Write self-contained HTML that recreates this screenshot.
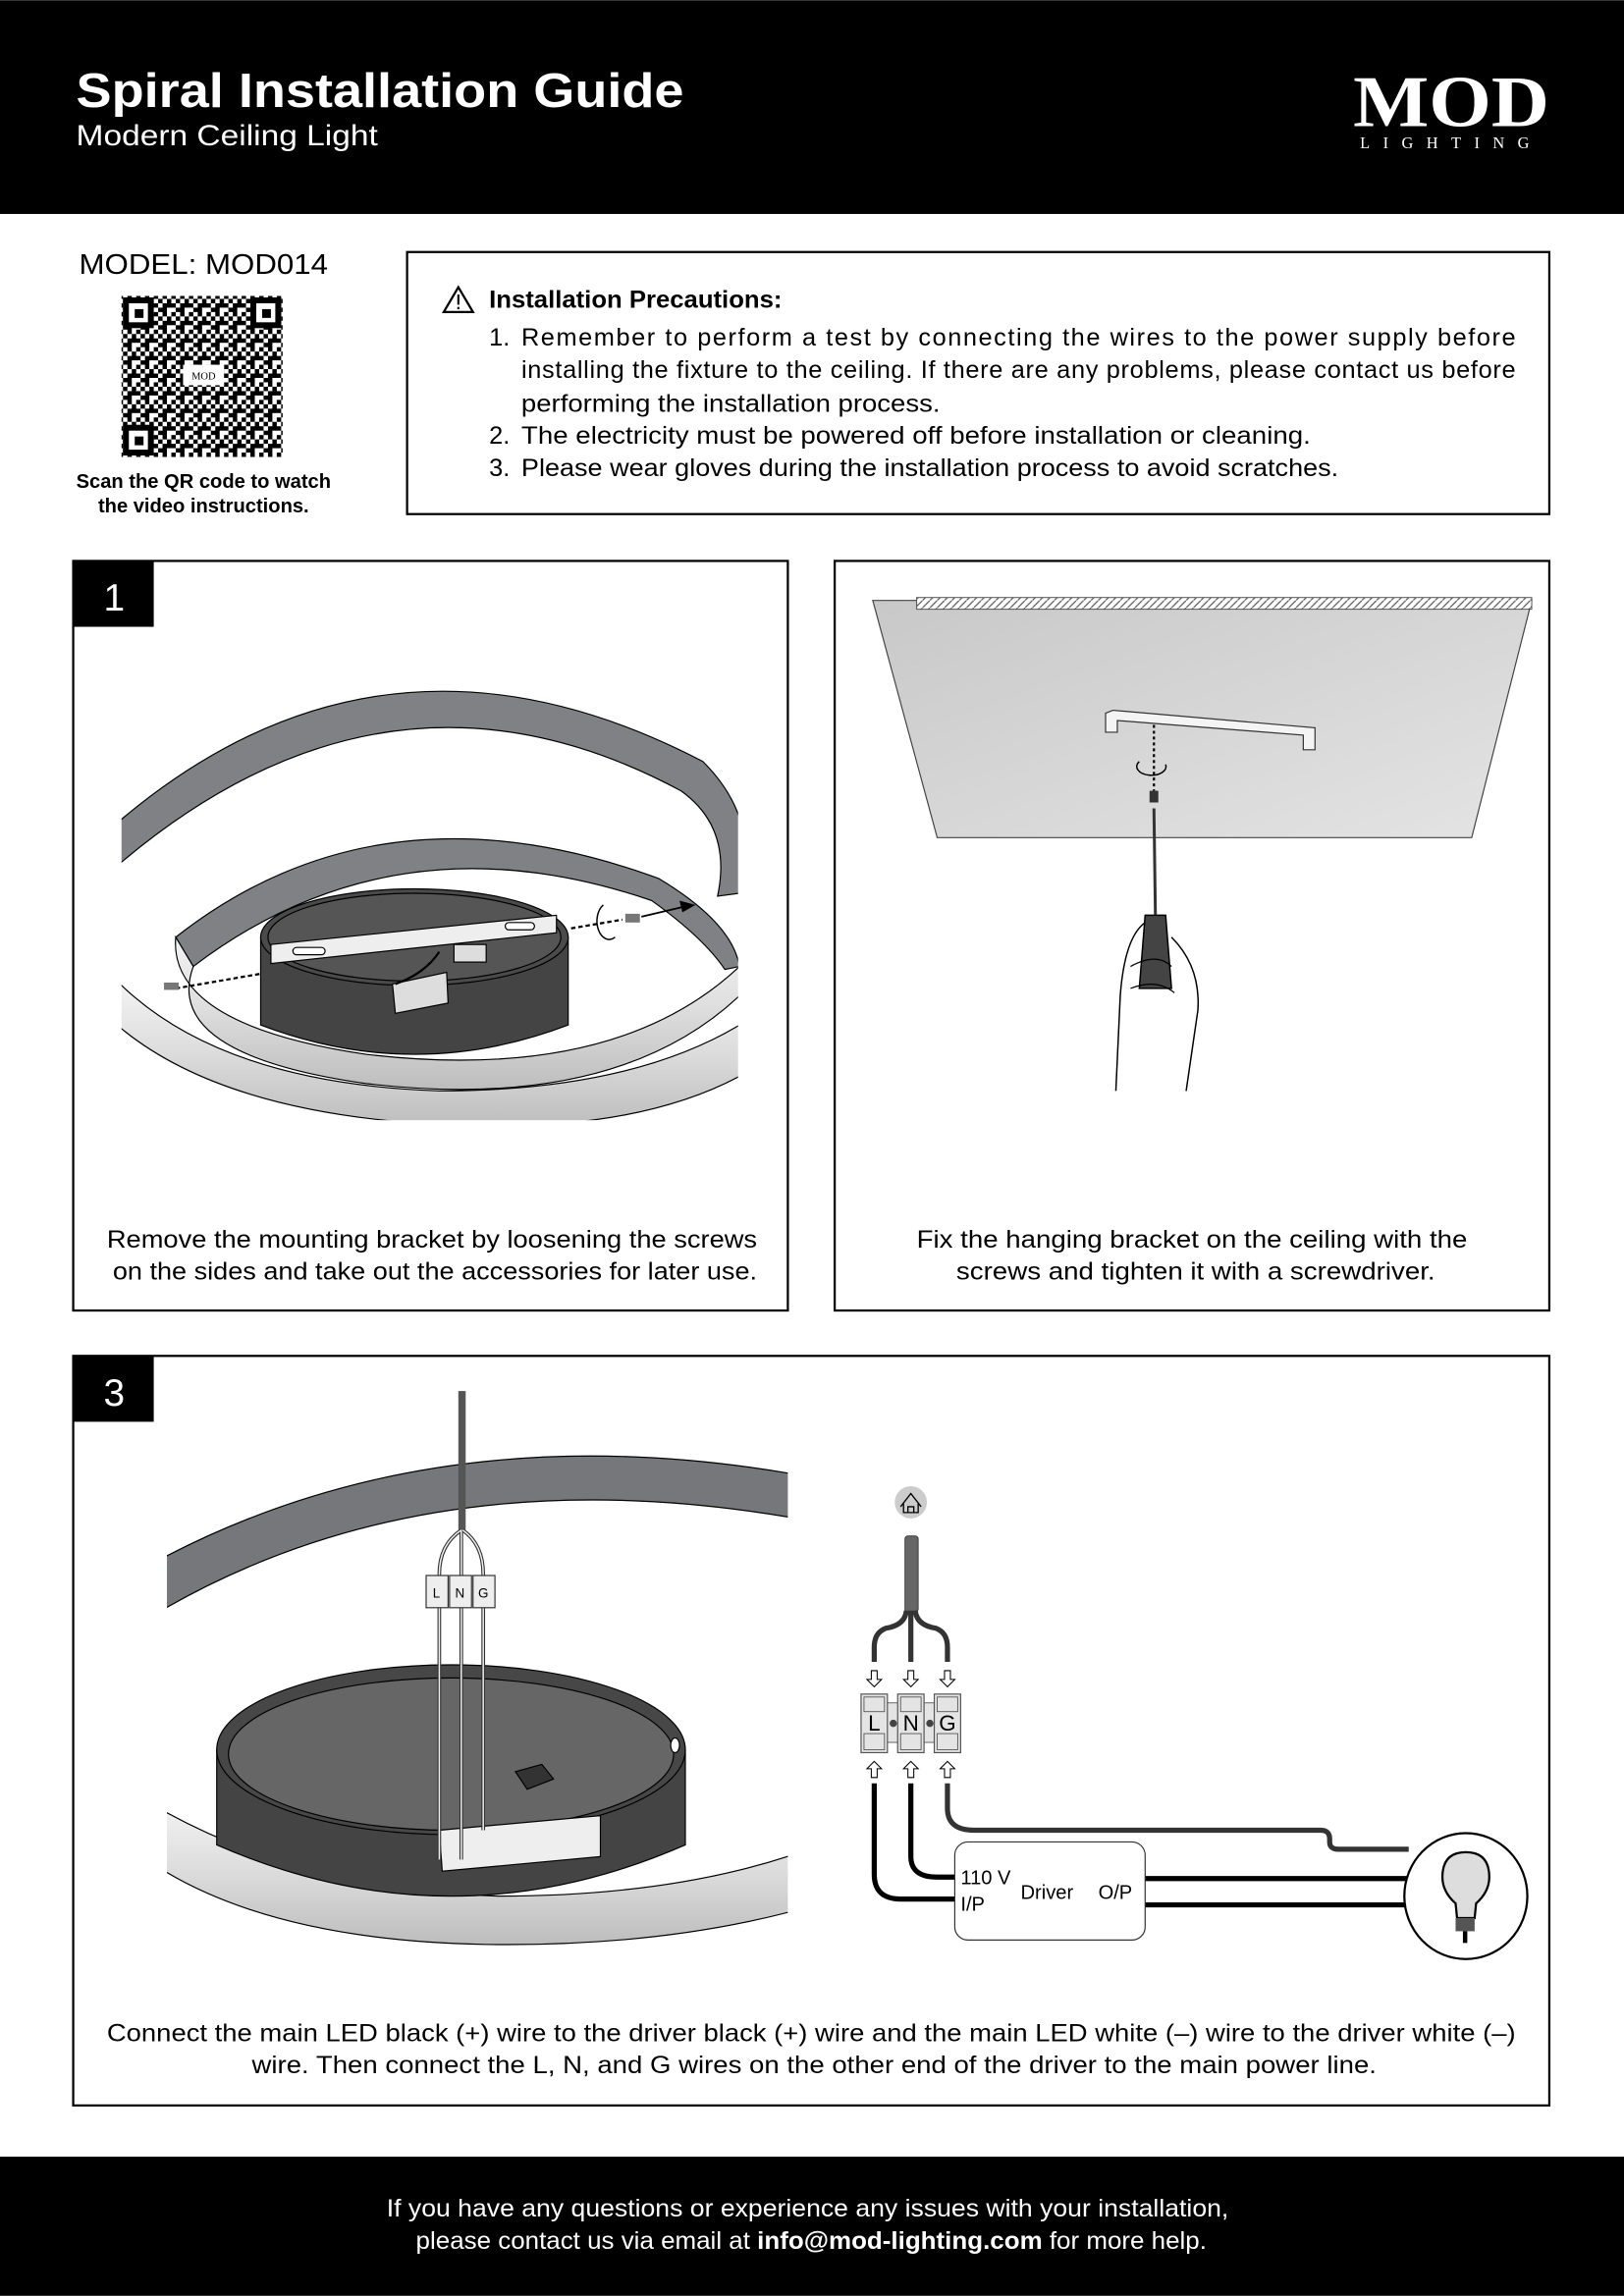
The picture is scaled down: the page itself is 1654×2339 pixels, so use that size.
<!DOCTYPE html>
<html><head><meta charset="utf-8"><style>
html,body{margin:0;padding:0;background:#fff}
svg{display:block}
text{font-family:"Liberation Sans",sans-serif}
</style></head><body>
<svg width="1654" height="2339" viewBox="0 0 1109 1568" xmlns="http://www.w3.org/2000/svg">
<defs>
<pattern id="qr" width="12" height="12" patternUnits="userSpaceOnUse">
<rect width="12" height="12" fill="#fff"/>
<rect x="0" y="0" width="3" height="3" fill="#000"/><rect x="6" y="0" width="3" height="6" fill="#000"/>
<rect x="3" y="3" width="3" height="3" fill="#000"/><rect x="9" y="3" width="3" height="3" fill="#000"/>
<rect x="0" y="6" width="6" height="3" fill="#000"/><rect x="9" y="9" width="3" height="3" fill="#000"/>
<rect x="3" y="9" width="3" height="3" fill="#000"/>
</pattern>
<pattern id="hatch" width="5" height="5" patternUnits="userSpaceOnUse"><rect width="5" height="5" fill="#fff"/><path d="M0 5L5 0" stroke="#555" stroke-width="0.8"/></pattern>
<linearGradient id="ceil" x1="0" y1="0" x2="1" y2="1"><stop offset="0" stop-color="#c8c8c8"/><stop offset="1" stop-color="#e4e4e4"/></linearGradient>
<linearGradient id="wring" x1="0" y1="0" x2="0" y2="1"><stop offset="0" stop-color="#f4f4f4"/><stop offset="0.5" stop-color="#dcdcdc"/><stop offset="1" stop-color="#bdbdbd"/></linearGradient>
<clipPath id="c1"><rect x="83" y="430" width="421" height="335"/></clipPath>
<clipPath id="c3"><rect x="114" y="950" width="424" height="388"/></clipPath>
</defs>

<!-- header -->
<rect x="0" y="0" width="1109" height="146" fill="#000"/>
<text x="52" y="73" fill="#fff" font-size="33" font-weight="bold" textLength="415" lengthAdjust="spacingAndGlyphs">Spiral Installation Guide</text>
<text x="52" y="99" fill="#fff" font-size="20" textLength="206" lengthAdjust="spacingAndGlyphs">Modern Ceiling Light</text>
<text x="991" y="86" fill="#fff" font-size="50" font-weight="bold" style="font-family:'Liberation Serif',serif" text-anchor="middle" textLength="134" lengthAdjust="spacingAndGlyphs">MOD</text>
<text x="991" y="101" fill="#fff" font-size="11" style="font-family:'Liberation Serif',serif" text-anchor="middle" letter-spacing="9">LIGHTING</text>

<!-- model + QR -->
<text x="54" y="187" font-size="19" textLength="170" lengthAdjust="spacingAndGlyphs">MODEL: MOD014</text>
<rect x="83" y="202" width="110" height="110" fill="url(#qr)"/>
<g fill="#fff" stroke="#000" stroke-width="4">
<rect x="86" y="205" width="17" height="17"/><rect x="173" y="205" width="17" height="17"/><rect x="86" y="292" width="17" height="17"/>
</g>
<rect x="92" y="211" width="6" height="6"/><rect x="179" y="211" width="6" height="6"/><rect x="92" y="298" width="6" height="6"/>
<rect x="125" y="249" width="28" height="14" fill="#fff"/>
<text x="139" y="259" font-size="7" text-anchor="middle" style="font-family:'Liberation Serif',serif">MOD</text>
<text x="139" y="333" font-size="13.5" font-weight="bold" text-anchor="middle">Scan the QR code to watch</text>
<text x="139" y="350" font-size="13.5" font-weight="bold" text-anchor="middle">the video instructions.</text>

<!-- precautions -->
<rect x="278" y="172" width="780" height="179" fill="none" stroke="#000" stroke-width="1.5"/>
<path d="M313 196 L303 213 L323 213 Z" fill="none" stroke="#000" stroke-width="1.5"/>
<rect x="312.3" y="201" width="1.4" height="7"/><rect x="312.3" y="209.5" width="1.4" height="1.6"/>
<text x="334" y="210" font-size="17" font-weight="bold" textLength="200" lengthAdjust="spacingAndGlyphs">Installation Precautions:</text>
<g font-size="17">
<text x="334" y="236">1.</text><text x="356" y="236" textLength="679" lengthAdjust="spacing">Remember to perform a test by connecting the wires to the power supply before</text>
<text x="356" y="258" textLength="679" lengthAdjust="spacing">installing the fixture to the ceiling. If there are any problems, please contact us before</text>
<text x="356" y="281" textLength="286" lengthAdjust="spacingAndGlyphs">performing the installation process.</text>
<text x="334" y="303">2.</text><text x="356" y="303" textLength="539" lengthAdjust="spacingAndGlyphs">The electricity must be powered off before installation or cleaning.</text>
<text x="334" y="325">3.</text><text x="356" y="325" textLength="558" lengthAdjust="spacingAndGlyphs">Please wear gloves during the installation process to avoid scratches.</text>
</g>

<!-- panel 1 -->
<rect x="50" y="383" width="488" height="512" fill="none" stroke="#000" stroke-width="1.5"/>
<rect x="50" y="383" width="55" height="45" fill="#000"/>
<text x="78" y="417" fill="#fff" font-size="26" text-anchor="middle">1</text>
<g clip-path="url(#c1)" stroke="#000" stroke-width="0.8">
<path d="M60 580 Q250 400 480 520 Q520 560 505 610 L490 612 Q500 565 465 540 Q260 430 70 600 Z" fill="#808185"/>
<path d="M120 640 Q260 530 450 600 Q500 630 505 660 L495 662 Q480 640 445 615 Q270 555 132 660 Z" fill="#808185"/>
<path d="M120 640 Q115 700 250 720 Q420 740 505 660 L505 680 Q420 760 250 740 Q110 720 132 660 Z" fill="url(#wring)"/>
<path d="M80 670 Q150 740 300 745 Q430 745 505 700 L505 735 Q430 775 300 768 Q150 760 80 700 Z" fill="url(#wring)"/>
<path d="M178 640 L178 700 Q283 740 388 700 L388 640 Z" fill="#444"/>
<ellipse cx="283" cy="640" rx="105" ry="33" fill="#4a4a4a"/>
<ellipse cx="283" cy="640" rx="100" ry="30" fill="#555"/>
<path d="M185 645 L380 625 L380 637 L185 658 Z" fill="#eee"/>
<rect x="200" y="647" width="22" height="5" rx="2.5" fill="#fff"/><rect x="345" y="630" width="20" height="5" rx="2.5" fill="#fff"/>
<path d="M268 672 L305 664 L306 685 L270 692 Z" fill="#ddd"/>
<path d="M300 650 Q290 665 270 672" fill="none" stroke="#000" stroke-width="1.5"/>
<rect x="310" y="645" width="22" height="12" fill="#ddd"/>
</g>
<line x1="120" y1="675" x2="178" y2="665" stroke="#000" stroke-width="1.5" stroke-dasharray="3,2"/>
<line x1="390" y1="634" x2="425" y2="628" stroke="#000" stroke-width="1.5" stroke-dasharray="3,2"/>
<line x1="438" y1="626" x2="468" y2="619" stroke="#000" stroke-width="1.2"/>
<path d="M475 618 L464 615 L466 623 Z"/>
<rect x="112" y="671" width="10" height="5" fill="#777"/><rect x="427" y="624" width="10" height="6" fill="#777"/>
<path d="M412 618 a8 12 0 1 0 8 22" fill="none" stroke="#000" stroke-width="1"/>
<g font-size="17">
<text x="73" y="852" textLength="444" lengthAdjust="spacingAndGlyphs">Remove the mounting bracket by loosening the screws</text>
<text x="77" y="874" textLength="440" lengthAdjust="spacingAndGlyphs">on the sides and take out the accessories for later use.</text>
</g>

<!-- panel 2 -->
<rect x="570" y="383" width="488" height="512" fill="none" stroke="#000" stroke-width="1.5"/>
<path d="M596 410 L1046 410 L1005 572 L640 572 Z" fill="url(#ceil)" stroke="#444" stroke-width="0.8"/>
<rect x="626" y="408" width="420" height="8" fill="url(#hatch)" stroke="#444" stroke-width="0.6"/>
<path d="M760 485 L898 497 L898 512 L890 512 L890 502 L763 492 L763 500 L755 500 L755 487 Z" fill="#f4f4f4" stroke="#333" stroke-width="0.8"/>
<line x1="788" y1="495" x2="788" y2="540" stroke="#000" stroke-width="1.5" stroke-dasharray="2,2"/>
<path d="M778 520 a10 6 0 1 0 18 2" fill="none" stroke="#000" stroke-width="1"/>
<rect x="785" y="540" width="6" height="8" fill="#333"/>
<line x1="788" y1="552" x2="789" y2="625" stroke="#333" stroke-width="2"/>
<path d="M782 625 L796 625 L800 675 L778 675 Z" fill="#444" stroke="#000"/>
<path d="M762 745 L765 680 Q768 640 782 630 M800 640 Q820 660 818 690 L810 745" fill="none" stroke="#000" stroke-width="1"/>
<path d="M772 660 Q790 650 800 660 M772 675 Q790 668 802 678" fill="none" stroke="#000" stroke-width="0.8"/>
<g font-size="17">
<text x="626" y="852" textLength="376" lengthAdjust="spacingAndGlyphs">Fix the hanging bracket on the ceiling with the</text>
<text x="653" y="874" textLength="327" lengthAdjust="spacingAndGlyphs">screws and tighten it with a screwdriver.</text>
</g>

<!-- panel 3 -->
<rect x="50" y="926" width="1008" height="512" fill="none" stroke="#000" stroke-width="1.5"/>
<rect x="50" y="926" width="55" height="45" fill="#000"/>
<text x="78" y="960" fill="#fff" font-size="26" text-anchor="middle">3</text>
<g clip-path="url(#c3)" stroke="#000" stroke-width="0.8">
<path d="M100 1070 Q300 960 560 1010 L560 1040 Q300 990 110 1100 Z" fill="#76777b"/>
<path d="M100 1230 Q200 1290 340 1295 Q470 1295 560 1260 L560 1300 Q460 1330 330 1328 Q180 1325 100 1270 Z" fill="url(#wring)"/>
<path d="M148 1195 L148 1260 Q308 1330 468 1260 L468 1195 Z" fill="#444"/>
<ellipse cx="308" cy="1195" rx="160" ry="58" fill="#474747"/>
<ellipse cx="308" cy="1198" rx="152" ry="52" fill="#666"/>
<path d="M300 1250 L410 1240 L410 1268 L302 1278 Z" fill="#eee"/>
<path d="M352 1210 L370 1205 L378 1215 L360 1222 Z" fill="#333"/>
<ellipse cx="461" cy="1192" rx="3" ry="5" fill="#fff"/>
</g>
<rect x="313" y="950" width="5" height="95" fill="#555"/>
<path d="M315 1045 Q300 1055 300 1075 L300 1270 M315 1045 L315 1270 M316 1045 Q330 1055 330 1075 L330 1250" fill="none" stroke="#333" stroke-width="2.5"/>
<path d="M315 1045 Q300 1055 300 1075 L300 1270 M315 1045 L315 1270 M316 1045 Q330 1055 330 1075 L330 1250" fill="none" stroke="#eee" stroke-width="1"/>
<g fill="#eee" stroke="#333" stroke-width="0.8">
<rect x="291" y="1076" width="15" height="22"/><rect x="307" y="1076" width="15" height="22"/><rect x="323" y="1076" width="15" height="22"/>
</g>
<g font-size="9" text-anchor="middle"><text x="298" y="1091">L</text><text x="314" y="1091">N</text><text x="330" y="1091">G</text></g>

<!-- wiring diagram -->
<circle cx="622" cy="1026" r="11" fill="#ccc"/>
<path d="M615 1029 L622 1020 L629 1029 M617 1027 L617 1033 L627 1033 L627 1027 M620 1033 L620 1029 L624 1029 L624 1033" fill="none" stroke="#000" stroke-width="0.9"/>
<rect x="618" y="1049" width="9" height="52" rx="2" fill="#666" stroke="#333" stroke-width="0.6"/>
<path d="M619 1100 Q618 1110 605 1112 Q597 1115 597 1125 L597 1135 M622 1100 L622 1135 M625 1100 Q626 1110 639 1112 Q647 1115 647 1125 L647 1135" fill="none" stroke="#333" stroke-width="3.5"/>
<g fill="#fff" stroke="#000" stroke-width="0.7">
<path d="M595 1141 h4 v6 h3 l-5 5 l-5 -5 h3 z"/><path d="M620 1141 h4 v6 h3 l-5 5 l-5 -5 h3 z"/><path d="M645 1141 h4 v6 h3 l-5 5 l-5 -5 h3 z"/>
<path d="M595 1214 h4 v-6 h3 l-5 -5 l-5 5 h3 z"/><path d="M620 1214 h4 v-6 h3 l-5 -5 l-5 5 h3 z"/><path d="M645 1214 h4 v-6 h3 l-5 -5 l-5 5 h3 z"/>
</g>
<rect x="605" y="1163" width="50" height="27" fill="#e4e4e4" stroke="#555" stroke-width="0.6"/>
<g fill="#e4e4e4" stroke="#555" stroke-width="0.8">
<rect x="588" y="1157" width="18" height="40"/><rect x="613" y="1157" width="18" height="40"/><rect x="638" y="1157" width="18" height="40"/>
</g>
<g fill="#e4e4e4" stroke="#555" stroke-width="0.6">
<rect x="590" y="1159" width="14" height="10"/><rect x="615" y="1159" width="14" height="10"/><rect x="640" y="1159" width="14" height="10"/>
<rect x="590" y="1184" width="14" height="11"/><rect x="615" y="1184" width="14" height="11"/><rect x="640" y="1184" width="14" height="11"/>
</g>
<circle cx="610" cy="1177" r="2.5" fill="#444"/><circle cx="635" cy="1177" r="2.5" fill="#444"/>
<g font-size="15" text-anchor="middle"><text x="597" y="1182">L</text><text x="622" y="1182">N</text><text x="647" y="1182">G</text></g>
<path d="M597 1218 L597 1280 Q597 1297 615 1297 L652 1297 M622 1218 L622 1268 Q622 1282 640 1282 L652 1282" fill="none" stroke="#000" stroke-width="3.5"/>
<path d="M647 1218 L647 1235 Q647 1250 665 1250 L902 1250 Q908 1250 908 1256 L908 1258 Q908 1263 914 1263 L962 1263" fill="none" stroke="#333" stroke-width="3.5"/>
<path d="M782 1283 L962 1283 M782 1301 L964 1301" stroke="#000" stroke-width="3.5"/>
<rect x="652" y="1258" width="130" height="67" rx="9" fill="#fff" stroke="#333" stroke-width="0.8"/>
<g font-size="13.5"><text x="656" y="1287">110 V</text><text x="656" y="1305">I/P</text><text x="697" y="1297">Driver</text><text x="750" y="1297">O/P</text></g>
<ellipse cx="1001" cy="1295" rx="42" ry="43" fill="#fff" stroke="#000" stroke-width="1.5"/>
<path d="M1001 1265 Q1017 1265 1017 1282 Q1017 1292 1008 1300 L1007 1310 L995 1310 L994 1300 Q985 1292 985 1282 Q985 1265 1001 1265 Z" fill="#ddd" stroke="#000" stroke-width="1.5"/>
<rect x="994" y="1310" width="13" height="9" fill="#555"/><rect x="999" y="1319" width="3" height="8" fill="#000"/>
<g font-size="17">
<text x="73" y="1394" textLength="962" lengthAdjust="spacingAndGlyphs">Connect the main LED black (+) wire to the driver black (+) wire and the main LED white (–) wire to the driver white (–)</text>
<text x="172" y="1416" textLength="768" lengthAdjust="spacingAndGlyphs">wire. Then connect the L, N, and G wires on the other end of the driver to the main power line.</text>
</g>

<!-- footer -->
<rect x="0" y="1473" width="1109" height="95" fill="#000"/>
<g font-size="17" fill="#fff">
<text x="264" y="1514" textLength="575" lengthAdjust="spacingAndGlyphs">If you have any questions or experience any issues with your installation,</text>
<text x="284" y="1536" textLength="540" lengthAdjust="spacingAndGlyphs">please contact us via email at <tspan font-weight="bold">info@mod-lighting.com</tspan> for more help.</text>
</g>
</svg>
</body></html>
